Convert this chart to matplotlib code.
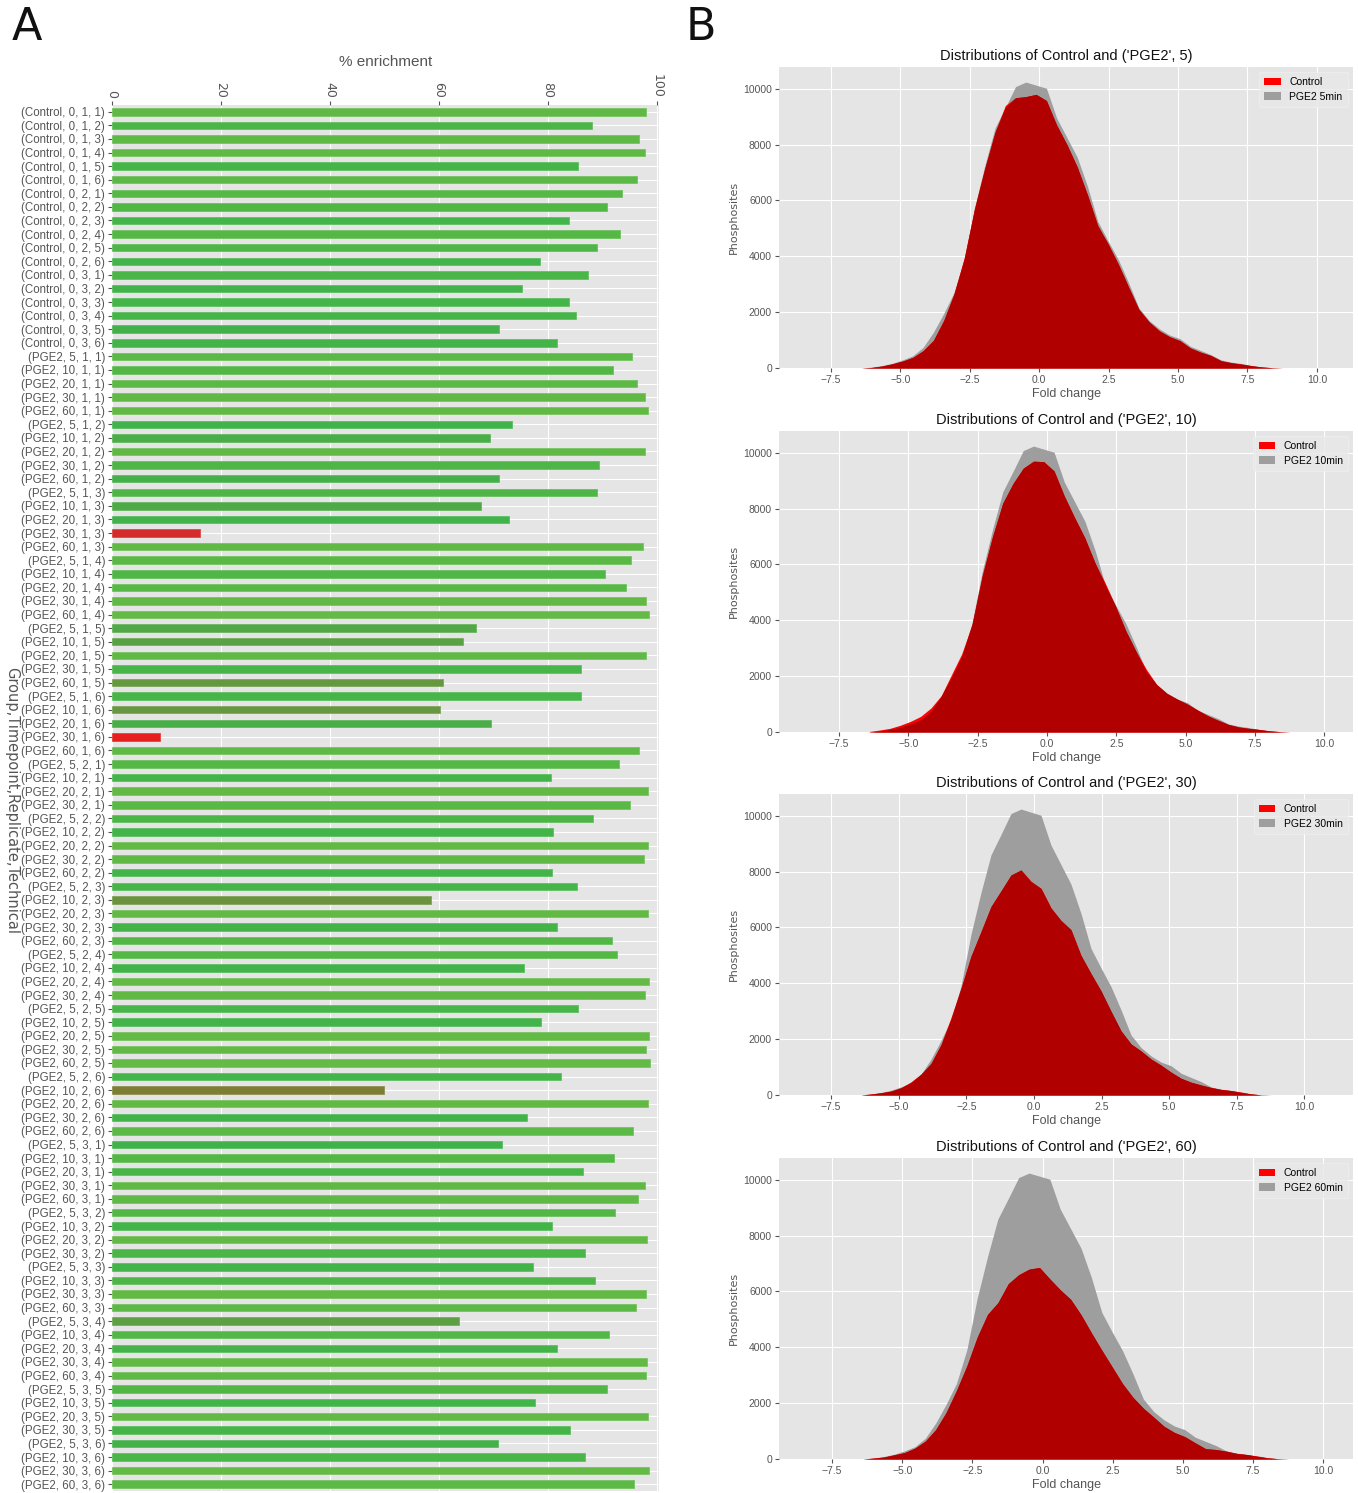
import numpy as np
import matplotlib
matplotlib.use("Agg")
import matplotlib.pyplot as plt
from matplotlib.colors import LinearSegmentedColormap
from matplotlib.patches import Patch

# ---------------- data: panel A ----------------
samples = [
    ("Control", 0, 1, 1), ("Control", 0, 1, 2), ("Control", 0, 1, 3), ("Control", 0, 1, 4),
    ("Control", 0, 1, 5), ("Control", 0, 1, 6), ("Control", 0, 2, 1), ("Control", 0, 2, 2),
    ("Control", 0, 2, 3), ("Control", 0, 2, 4), ("Control", 0, 2, 5), ("Control", 0, 2, 6),
    ("Control", 0, 3, 1), ("Control", 0, 3, 2), ("Control", 0, 3, 3), ("Control", 0, 3, 4),
    ("Control", 0, 3, 5), ("Control", 0, 3, 6),
    ("PGE2", 5, 1, 1), ("PGE2", 10, 1, 1), ("PGE2", 20, 1, 1), ("PGE2", 30, 1, 1), ("PGE2", 60, 1, 1),
    ("PGE2", 5, 1, 2), ("PGE2", 10, 1, 2), ("PGE2", 20, 1, 2), ("PGE2", 30, 1, 2), ("PGE2", 60, 1, 2),
    ("PGE2", 5, 1, 3), ("PGE2", 10, 1, 3), ("PGE2", 20, 1, 3), ("PGE2", 30, 1, 3), ("PGE2", 60, 1, 3),
    ("PGE2", 5, 1, 4), ("PGE2", 10, 1, 4), ("PGE2", 20, 1, 4), ("PGE2", 30, 1, 4), ("PGE2", 60, 1, 4),
    ("PGE2", 5, 1, 5), ("PGE2", 10, 1, 5), ("PGE2", 20, 1, 5), ("PGE2", 30, 1, 5), ("PGE2", 60, 1, 5),
    ("PGE2", 5, 1, 6), ("PGE2", 10, 1, 6), ("PGE2", 20, 1, 6), ("PGE2", 30, 1, 6), ("PGE2", 60, 1, 6),
    ("PGE2", 5, 2, 1), ("PGE2", 10, 2, 1), ("PGE2", 20, 2, 1), ("PGE2", 30, 2, 1),
    ("PGE2", 5, 2, 2), ("PGE2", 10, 2, 2), ("PGE2", 20, 2, 2), ("PGE2", 30, 2, 2), ("PGE2", 60, 2, 2),
    ("PGE2", 5, 2, 3), ("PGE2", 10, 2, 3), ("PGE2", 20, 2, 3), ("PGE2", 30, 2, 3), ("PGE2", 60, 2, 3),
    ("PGE2", 5, 2, 4), ("PGE2", 10, 2, 4), ("PGE2", 20, 2, 4), ("PGE2", 30, 2, 4),
    ("PGE2", 5, 2, 5), ("PGE2", 10, 2, 5), ("PGE2", 20, 2, 5), ("PGE2", 30, 2, 5), ("PGE2", 60, 2, 5),
    ("PGE2", 5, 2, 6), ("PGE2", 10, 2, 6), ("PGE2", 20, 2, 6), ("PGE2", 30, 2, 6), ("PGE2", 60, 2, 6),
    ("PGE2", 5, 3, 1), ("PGE2", 10, 3, 1), ("PGE2", 20, 3, 1), ("PGE2", 30, 3, 1), ("PGE2", 60, 3, 1),
    ("PGE2", 5, 3, 2), ("PGE2", 10, 3, 2), ("PGE2", 20, 3, 2), ("PGE2", 30, 3, 2),
    ("PGE2", 5, 3, 3), ("PGE2", 10, 3, 3), ("PGE2", 30, 3, 3), ("PGE2", 60, 3, 3),
    ("PGE2", 5, 3, 4), ("PGE2", 10, 3, 4), ("PGE2", 20, 3, 4), ("PGE2", 30, 3, 4), ("PGE2", 60, 3, 4),
    ("PGE2", 5, 3, 5), ("PGE2", 10, 3, 5), ("PGE2", 20, 3, 5), ("PGE2", 30, 3, 5),
    ("PGE2", 5, 3, 6), ("PGE2", 10, 3, 6), ("PGE2", 30, 3, 6), ("PGE2", 60, 3, 6),
]

enrichment = [
    98.0, 88.1, 96.7, 97.9, 85.5, 96.4, 93.6, 90.8, 83.9, 93.2, 89.0, 78.6,
    87.4, 75.2, 83.9, 85.1, 71.1, 81.6,
    95.4, 91.9, 96.4, 97.9, 98.4,
    73.5, 69.3, 97.9, 89.4, 71.0,
    89.0, 67.7, 72.9, 16.1, 97.4,
    95.2, 90.5, 94.4, 98.1, 98.6,
    66.8, 64.5, 98.0, 86.0, 60.7,
    86.1, 60.2, 69.5, 8.9, 96.8,
    93.1, 80.5, 98.3, 95.0,
    88.2, 80.9, 98.4, 97.7, 80.7,
    85.4, 58.6, 98.4, 81.6, 91.8,
    92.6, 75.7, 98.5, 97.8,
    85.6, 78.8, 98.5, 98.1, 98.7,
    82.4, 50.0, 98.4, 76.1, 95.7,
    71.5, 92.2, 86.4, 97.9, 96.5,
    92.4, 80.8, 98.2, 86.9,
    77.2, 88.6, 98.1, 96.2,
    63.6, 91.2, 81.6, 98.2, 98.0,
    90.8, 77.7, 98.3, 84.0,
    70.8, 86.9, 98.5, 95.9,
]

enrich_ticks = [0, 20, 40, 60, 80, 100]

# ---------------- data: panel B ----------------
fold_change = [-6.40, -6.03, -5.66, -5.29, -4.92, -4.55, -4.18, -3.81, -3.44, -3.07,
               -2.70, -2.33, -1.96, -1.59, -1.22, -0.85, -0.48, -0.11, 0.26, 0.63,
               1.00, 1.37, 1.74, 2.11, 2.48, 2.85, 3.22, 3.59, 3.96, 4.33,
               4.70, 5.07, 5.44, 5.81, 6.18, 6.55, 6.92, 7.29, 7.66, 8.03,
               8.40, 8.77]

pge2_counts = [0, 30, 90, 170, 290, 440, 740, 1280, 1950, 2700,
               3900, 5750, 7250, 8600, 9330, 10080, 10240, 10130, 10020, 8950,
               8250, 7550, 6500, 5250, 4550, 3880, 3050, 2150, 1700, 1400,
               1180, 1050, 780, 630, 480, 290, 210, 160, 90, 40,
               10, 0]

control_5 = [0, 20, 70, 150, 250, 380, 620, 990, 1700, 2650,
             3950, 5700, 7150, 8450, 9400, 9680, 9720, 9800, 9580, 8700,
             8000, 7200, 6200, 5100, 4450, 3720, 2900, 2100, 1650, 1330,
             1120, 980, 720, 570, 450, 260, 190, 140, 80, 35,
             10, 0]

control_10 = [20, 70, 130, 240, 380, 560, 860, 1300, 2050, 2800,
              3850, 5600, 7000, 8200, 8900, 9450, 9700, 9680, 9350, 8450,
              7680, 6950, 6050, 5320, 4500, 3620, 2880, 2240, 1700, 1380,
              1180, 1000, 790, 580, 420, 270, 180, 130, 90, 45,
              15, 0]

control_30 = [0, 40, 80, 140, 260, 470, 750, 1130, 1800, 2770,
              3820, 4970, 5850, 6750, 7310, 7880, 8060, 7650, 7400, 6700,
              6250, 5920, 5000, 4350, 3730, 3000, 2300, 1830, 1580, 1290,
              1070, 820, 600, 460, 360, 270, 200, 160, 110, 40,
              5, 0]

control_60 = [0, 35, 70, 150, 230, 390, 640, 1050, 1660, 2450,
              3330, 4360, 5180, 5600, 6280, 6600, 6800, 6860, 6450, 6060,
              5720, 5170, 4520, 3900, 3300, 2700, 2210, 1820, 1500, 1170,
              950, 800, 580, 370, 340, 280, 200, 160, 110, 45,
              10, 0]

timepoints = [5, 10, 30, 60]
controls = [control_5, control_10, control_30, control_60]
fc_ticks = [-7.5, -5.0, -2.5, 0.0, 2.5, 5.0, 7.5, 10.0]
count_ticks = [0, 2000, 4000, 6000, 8000, 10000]

# ---------------- style ----------------
plt.style.use("ggplot")
plt.rcParams["font.family"] = ["Liberation Sans", "DejaVu Sans"]
TICKC = "#555555"

W, H = 1358, 1493
fig = plt.figure(figsize=(W / 100, H / 100), dpi=100)


def box(l, t, r, b):
    return [l / W, 1 - b / H, (r - l) / W, (b - t) / H]


# ---------------- panel A ----------------
axA = fig.add_axes(box(112, 105, 659, 1491))
cmap = LinearSegmentedColormap.from_list(
    "enr",
    [(0.00, (0.92, 0.10, 0.10)),
     (0.09, (0.90, 0.12, 0.12)),
     (0.16, (0.83, 0.17, 0.17)),
     (0.50, (0.49, 0.49, 0.20)),
     (0.60, (0.41, 0.59, 0.25)),
     (0.66, (0.33, 0.65, 0.27)),
     (0.72, (0.25, 0.70, 0.29)),
     (0.85, (0.27, 0.71, 0.28)),
     (0.93, (0.33, 0.72, 0.27)),
     (1.00, (0.40, 0.73, 0.27))])
vals = np.array(enrichment)
cols = cmap(vals / 100.0)
ypos = np.arange(len(samples))
axA.barh(ypos, vals, height=0.55, color=cols, edgecolor=cols * 0.85 + 0.15, linewidth=0.6, zorder=3)
axA.set_ylim(len(samples) - 0.5, -0.5)
axA.set_xlim(0, 100.4)
labels = ["({}, {}, {}, {})".format(*s) for s in samples]
axA.set_yticks(ypos)
axA.set_yticklabels(labels, fontsize=8.3, color=TICKC)
axA.xaxis.tick_top()
axA.xaxis.set_label_position("top")
axA.set_xticks(enrich_ticks)
axA.set_xticklabels([str(t) for t in enrich_ticks], rotation=270, fontsize=9,
                    color=TICKC, family="DejaVu Sans")
axA.set_xlabel("% enrichment", fontsize=11, color=TICKC, labelpad=6)
axA.tick_params(axis="y", length=3, pad=2, colors=TICKC)
axA.tick_params(axis="x", length=3, pad=2, colors=TICKC)
for sp in axA.spines.values():
    sp.set_visible(False)
fig.text(12 / W, 1 - 800 / H, "Group,Timepoint,Replicate,Technical", fontsize=10.5,
         color=TICKC, family="DejaVu Sans", rotation=270, ha="center", va="center")

fig.text(12 / W, 1 - 28 / H, "A", fontsize=32, family="DejaVu Sans", va="center", ha="left", color="#111111")
fig.text(686 / W, 1 - 28 / H, "B", fontsize=32, family="DejaVu Sans", va="center", ha="left", color="#111111")

# ---------------- panel B ----------------
tops = [67, 431, 794, 1158]
xlims = [(-9.37, 11.3), (-9.66, 11.04), (-9.43, 11.8), (-9.39, 11.06)]
x = np.array(fold_change)
g = np.array(pge2_counts)
for i, (tp, ctrl) in enumerate(zip(timepoints, controls)):
    ax = fig.add_axes(box(779, tops[i], 1353, tops[i] + 301))
    c = np.array(ctrl)
    ax.fill_between(x, 0, g, color="#9e9e9e", lw=0, zorder=2)
    ax.fill_between(x, 0, c, color="#ff0000", lw=0, zorder=3)
    ax.fill_between(x, 0, np.minimum(c, g), color="#b00000", lw=0, zorder=4)
    ax.set_xlim(*xlims[i])
    ax.set_ylim(0, 10780)
    ax.set_xticks(fc_ticks)
    ax.set_yticks(count_ticks)
    ax.tick_params(labelsize=7.5, colors=TICKC, length=3, pad=2)
    ax.set_title("Distributions of Control and ('PGE2', {})".format(tp), fontsize=10.5,
                 color="#111111", pad=5)
    ax.set_xlabel("Fold change", fontsize=9, color=TICKC, labelpad=2)
    ax.set_ylabel("Phosphosites", fontsize=8, color=TICKC, family="DejaVu Sans", labelpad=3)
    handles = [Patch(facecolor="#ff0000", label="Control"),
               Patch(facecolor="#9e9e9e", label="PGE2 {}min".format(tp))]
    leg = ax.legend(handles=handles, loc="upper right", fontsize=7.5, frameon=True,
                    handlelength=1.6, handleheight=0.7, borderpad=0.5, labelspacing=0.4)
    leg.get_frame().set_facecolor("#e8e8e8")
    leg.get_frame().set_edgecolor("#f2f2f2")
    for sp in ax.spines.values():
        sp.set_visible(False)

fig.savefig("out.png", dpi=100, facecolor="white")
